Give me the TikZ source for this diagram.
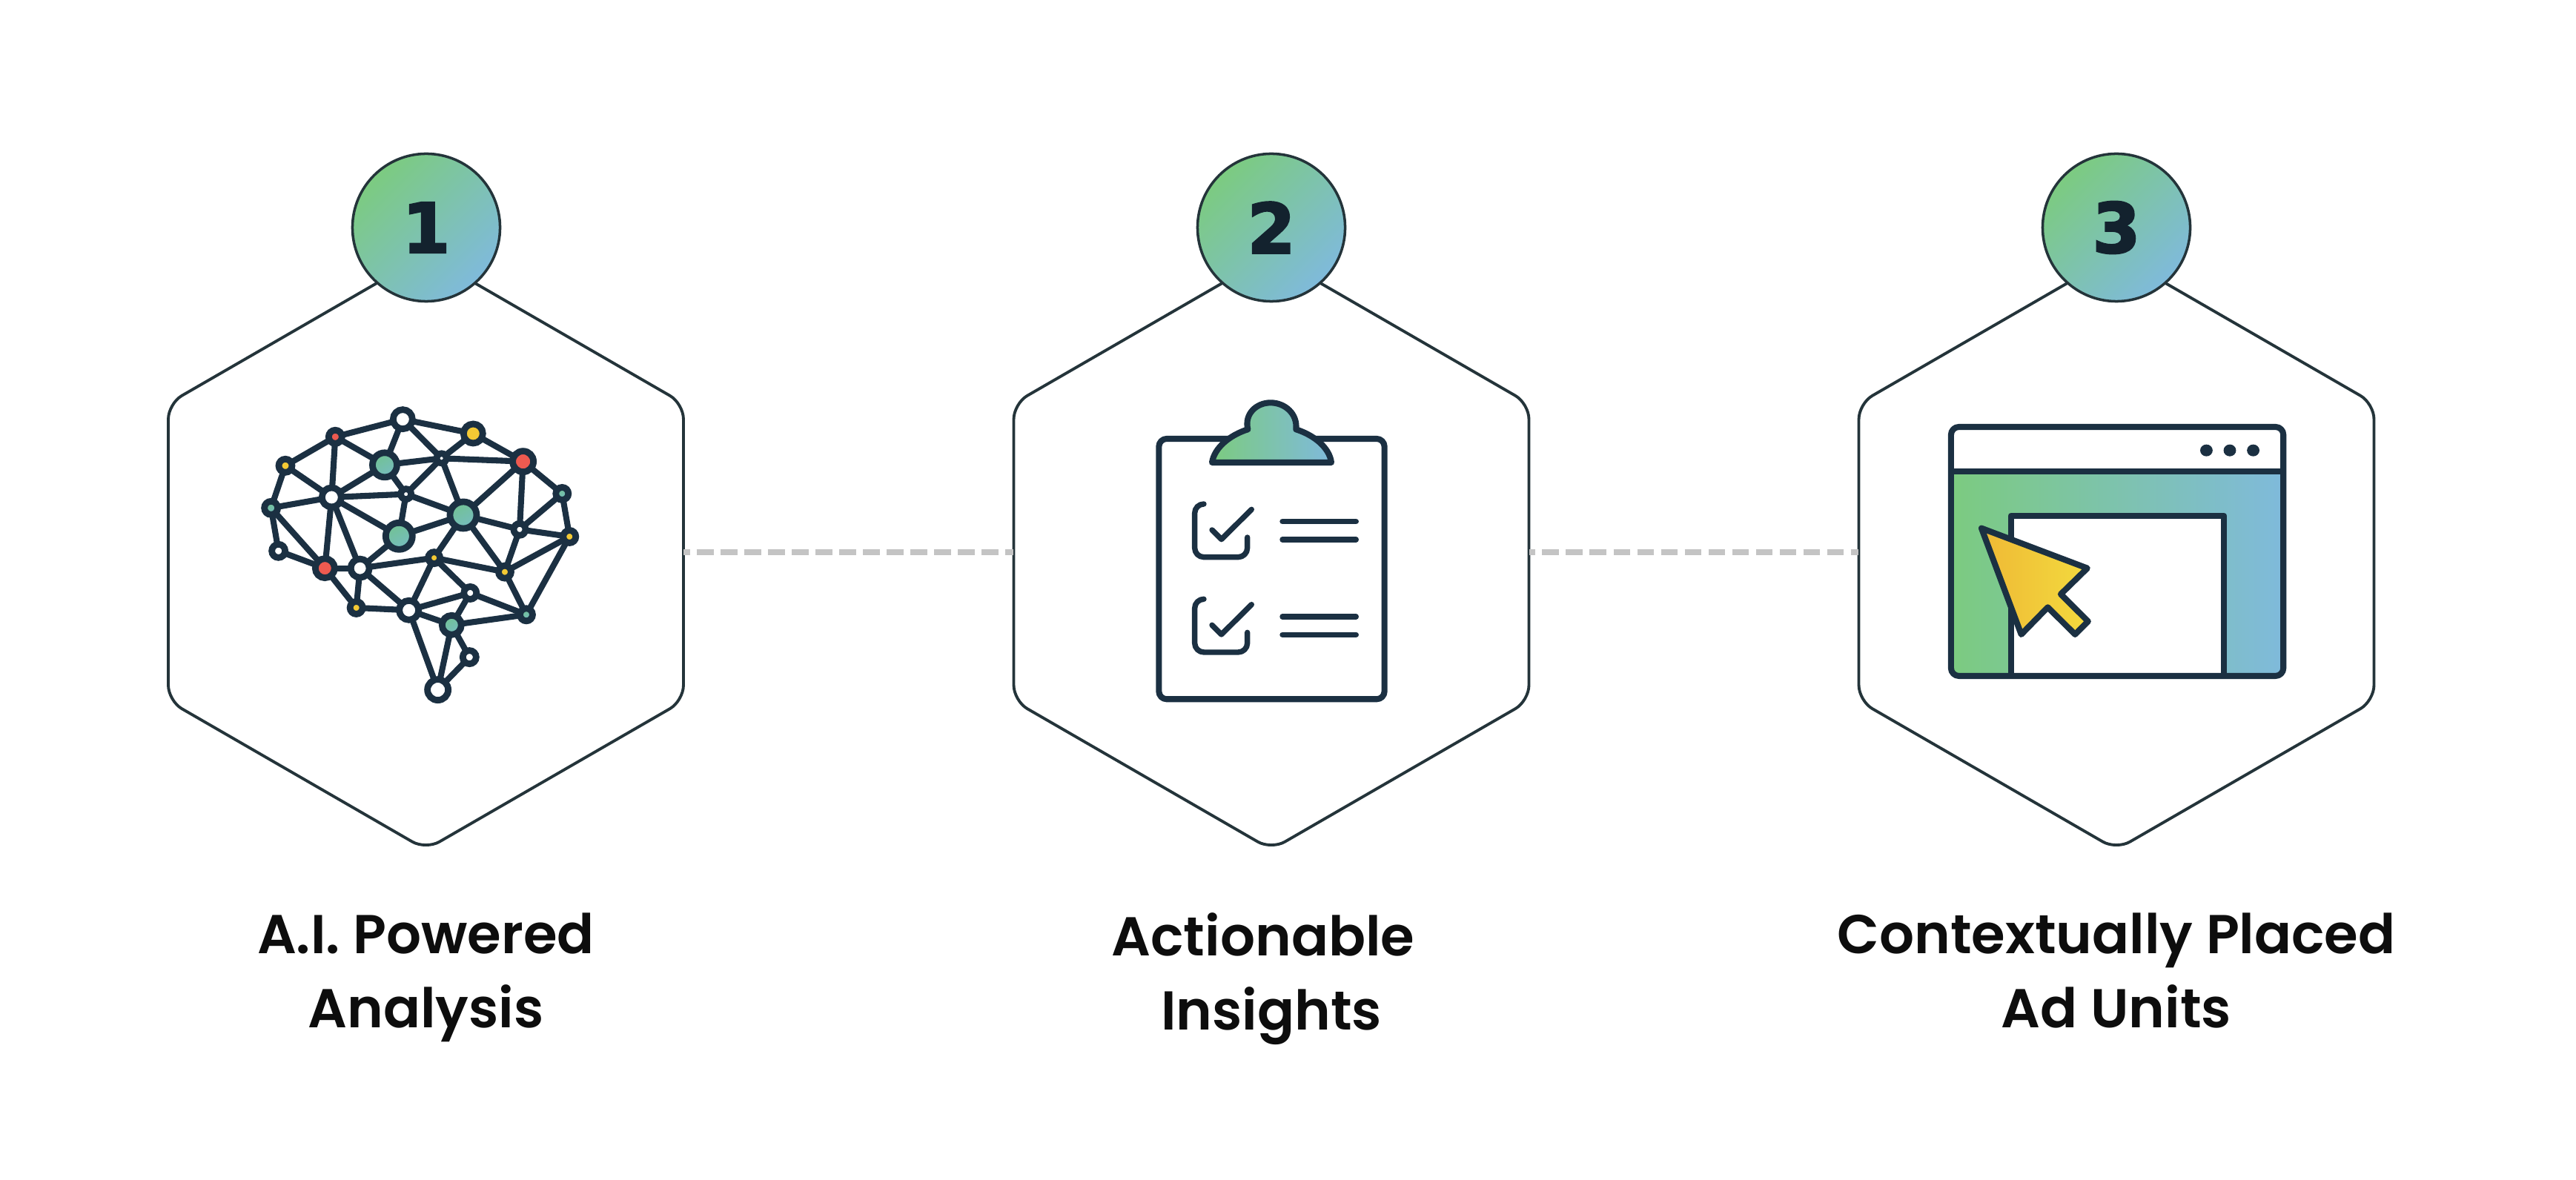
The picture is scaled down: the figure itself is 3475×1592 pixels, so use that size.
\documentclass[tikz,border=0pt]{standalone}
\usepackage{fontspec}
\setmainfont{Poppins}[BoldFont={Poppins SemiBold}]
\newfontfamily\numfont{DejaVu Sans}[BoldFeatures={FakeBold=2.6}]
\usetikzlibrary{arrows.meta,calc,positioning,shapes.geometric}
\definecolor{Ink}{HTML}{1B3042}
\definecolor{Edge}{HTML}{24343A}
\definecolor{Leaf}{HTML}{7CCB80}
\definecolor{Sky}{HTML}{7FBADB}
\definecolor{Sun}{HTML}{F3C934}
\definecolor{SunDeep}{HTML}{EFB935}
\definecolor{SunPale}{HTML}{F3DA3E}
\definecolor{Coral}{HTML}{EE5A50}
\definecolor{MintA}{HTML}{72C293}
\definecolor{MintB}{HTML}{76BCC0}
\definecolor{Dash}{HTML}{C4C4C4}
\tikzset{
  hexcard/.style={draw=Edge,fill=white,line width=1.1pt,regular polygon,regular polygon sides=6,shape border rotate=30,minimum size=8.02cm,inner sep=0,outer sep=0,rounded corners=6pt},
  badge/.style={circle,draw=Edge,line width=1pt,left color=Leaf,right color=Sky,shading angle=45,minimum size=1.99cm,inner sep=0,text=Ink!70!black,font=\numfont\bfseries\fontsize{26.5}{26.5}\selectfont},
  caption/.style={align=center,text=black!95,inner sep=0,font=\bfseries\fontsize{21}{28.45}\selectfont},
  dashlink/.style={Dash,line width=2.2pt,dash pattern=on 6.5pt off 2.6pt,dash phase=4pt},
  dot/.style={circle,draw=Ink,line width=2.5pt,inner sep=0,outer sep=0,minimum size=#1cm},
  wire/.style={Ink,line width=2.3pt},
  iconline/.style={Ink,line width=2.3pt,line join=round},
  mintfill/.style={left color=MintA,right color=MintB,shading angle=30},
}
\begin{document}
\begin{tikzpicture}[x=.01cm,y=-.01cm]
  \useasboundingbox (0,0) rectangle (3475,1592);
  \fill[white] (0,0) rectangle (3475,1592);
  % cards
  \node[hexcard] (hexa) at (574.5,745) {};
  \node[hexcard] (hexb) at (1715,745) {};
  \node[hexcard] (hexc) at (2855,745) {};
  \draw[dashlink] (hexa)--(hexb);
  \draw[dashlink] (hexb)--(hexc);
  \node[badge] (numa) at (575,307) {1};
  \node[badge] (numb) at (1715,307) {2};
  \node[badge] (numc) at (2855,307) {3};
  \node[caption,below=.85cm of hexa] (capa) {A.I. Powered\\Analysis};
  \node[caption,below=.85cm of hexb] (capb) {Actionable\kern6.3pt\\Insights};
  \node[caption,below=.85cm of hexc] (capc) {Contextually Placed\\Ad Units};
  % brain
  \begin{scope}[shift={(320,500)},scale=.3333]
    \node[dot=.26,fill=white] (b1) at (670,197) {};
    \node[dot=.26,fill=Sun] (b2) at (955,255) {};
    \node[dot=.18,fill=Coral] (b3) at (397,268) {};
    \node[dot=.28,fill=Coral] (b4) at (1157,368) {};
    \node[dot=.18,fill=Sun] (b5) at (195,385) {};
    \node[dot=.33,mintfill] (b6) at (597,382) {};
    \node[dot=.13,fill=white] (b7) at (827,355) {};
    \node[dot=.17,mintfill] (b8) at (1315,498) {};
    \node[dot=.14,fill=white] (b9) at (683,500) {};
    \node[dot=.26,fill=white] (b10) at (382,513) {};
    \node[dot=.18,mintfill] (b11) at (137,556) {};
    \node[dot=.36,mintfill] (b12) at (915,585) {};
    \node[dot=.16,fill=white] (b13) at (1143,643) {};
    \node[dot=.17,fill=Sun] (b14) at (1345,672) {};
    \node[dot=.36,mintfill] (b15) at (655,670) {};
    \node[dot=.18,fill=white] (b16) at (167,730) {};
    \node[dot=.16,fill=Sun] (b17) at (797,758) {};
    \node[dot=.26,fill=Coral] (b18) at (355,800) {};
    \node[dot=.25,fill=white] (b19) at (497,800) {};
    \node[dot=.17,fill=Sun] (b20) at (1083,815) {};
    \node[dot=.17,fill=white] (b21) at (943,900) {};
    \node[dot=.17,fill=Sun] (b22) at (482,960) {};
    \node[dot=.26,fill=white] (b23) at (695,970) {};
    \node[dot=.17,mintfill] (b24) at (1170,988) {};
    \node[dot=.26,mintfill] (b25) at (868,1030) {};
    \node[dot=.18,fill=white] (b26) at (940,1160) {};
    \node[dot=.28,fill=white] (b27) at (812,1292) {};
    \foreach \a/\b in {b1/b3,b1/b2,b1/b6,b1/b7,b2/b7,b2/b4,b7/b4,b7/b6,b7/b9,b7/b12,
      b3/b5,b3/b10,b3/b6,b5/b11,b5/b10,b6/b10,b6/b9,b10/b9,b10/b11,b10/b15,
      b10/b18,b10/b19,b9/b12,b9/b15,b11/b16,b11/b18,b16/b18,b18/b19,b18/b22,b19/b22,
      b19/b15,b19/b17,b19/b23,b15/b12,b12/b4,b12/b13,b12/b17,b12/b20,b4/b8,b4/b13,
      b8/b13,b8/b14,b13/b14,b13/b20,b14/b20,b14/b24,b17/b20,b17/b23,b17/b21,b20/b24,
      b21/b23,b21/b24,b21/b25,b22/b23,b23/b25,b23/b27,b25/b24,b25/b27,b25/b26,b26/b27}
      \draw[wire] (\a)--(\b);
  \end{scope}
  % clipboard
  \begin{scope}[shift={(1500,500)},scale=.3333]
    \draw[iconline,rounded corners=3pt] (190,276) rectangle (1103,1330);
    \draw[iconline,left color=Leaf,right color=Sky] (405,372) .. controls (415,310) and (480,260) .. (550,238)
      .. controls (535,175) and (585,130) .. (642,130) .. controls (700,130) and (752,175) .. (745,238)
      .. controls (815,260) and (880,310) .. (888,372) -- cycle;
    \foreach \dy in {0,385} {
      \draw[iconline,line cap=round,line width=2.1pt,rounded corners=3.5pt] (372,540+\dy) -| (335,755+\dy) -| (548,675+\dy);
      \draw[iconline,line cap=round,line width=2.1pt] (405,645+\dy)--(443,683+\dy)--(565,562+\dy);
      \draw[iconline,line cap=round,line width=2.1pt] (690,611+\dy)--(988,611+\dy);
      \draw[iconline,line cap=round,line width=2.1pt] (690,684+\dy)--(988,684+\dy);
    }
  \end{scope}
  % browser window
  \begin{scope}[shift={(2580,540)},xscale=.3508,yscale=.3333]
    \path[left color=Leaf,right color=Sky,rounded corners=2pt] (148,288) rectangle (1426,1116);
    \draw[iconline,fill=white] (378,1116) |- (1198,468) -- (1198,1116);
    \draw[iconline,rounded corners=3pt] (148,108) rectangle (1426,1116);
    \draw[iconline] (148,288)--(1426,288);
    \foreach \x in {1130,1220,1310} \fill[Ink] (\x,203) circle (24);
    \draw[iconline,left color=SunDeep,right color=SunPale] (265,518)--(672,680)--(570,785)--(675,895)--(625,948)--(520,838)--(418,948)--cycle;
  \end{scope}
\end{tikzpicture}
\end{document}
